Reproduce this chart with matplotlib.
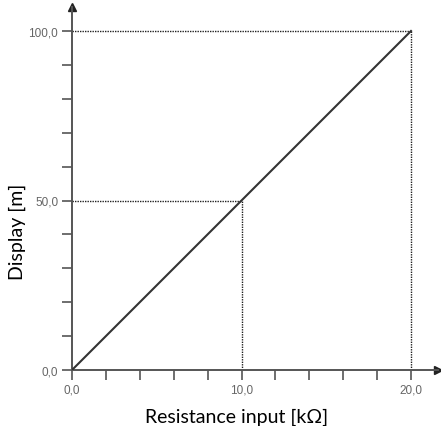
import matplotlib.pyplot as plt

# data
resistance = [0, 20]
display = [0, 100]
guide_x = [10, 20]
guide_y = [50, 100]
xticks = [0, 2, 4, 6, 8, 10, 12, 14, 16, 18, 20]
xticklabels = ["0,0", "", "", "", "", "10,0", "", "", "", "", "20,0"]
yticks = [0, 10, 20, 30, 40, 50, 60, 70, 80, 90, 100]
yticklabels = ["0,0", "", "", "", "", "50,0", "", "", "", "", "100,0"]

fig = plt.figure(figsize=(4.41, 4.27), dpi=100)
ax = fig.add_axes([72/441, 56/427, 366/441, 363/427])

ax.plot(resistance, display, color="#333333", lw=1.5, zorder=3)
for gx, gy in zip(guide_x, guide_y):
    ax.plot([0, gx], [gy, gy], color="#222222", lw=1.0, ls=(0, (1, 0.8)))
    ax.plot([gx, gx], [0, gy], color="#222222", lw=1.0, ls=(0, (1, 0.8)))

ax.set_xlim(0, 366/16.95)
ax.set_ylim(0, 363/3.39)

for s in ["top", "right"]:
    ax.spines[s].set_visible(False)
for s in ["left", "bottom"]:
    ax.spines[s].set_color("#555555")
    ax.spines[s].set_linewidth(1.4)

# arrow heads
ax.plot(1, 0, ">", color="#222222", ms=6, transform=ax.get_yaxis_transform(), clip_on=False)
ax.plot(0, 1, "^", color="#222222", ms=6, transform=ax.get_xaxis_transform(), clip_on=False)

ax.set_xticks(xticks)
ax.set_xticklabels(xticklabels)
ax.set_yticks(yticks)
ax.set_yticklabels(yticklabels)
ax.tick_params(length=7, width=1.2, color="#555555", labelsize=8.5, labelcolor="#666666",
               pad=3)
for lab in ax.get_xticklabels() + ax.get_yticklabels():
    lab.set_family(["Liberation Sans", "DejaVu Sans"])

ax.set_xlabel("Resistance input [kΩ]", fontsize=14, family=["Lato", "DejaVu Sans"])
ax.set_ylabel("Display [m]", fontsize=14, family=["Lato", "DejaVu Sans"])
ax.xaxis.set_label_coords(0.449, -46/363, transform=ax.transAxes)
ax.yaxis.set_label_coords(-55/366, 0.383, transform=ax.transAxes)
ax.xaxis.label.set_va("center")
ax.yaxis.label.set_va("center")

fig.savefig("out.png", dpi=100)
